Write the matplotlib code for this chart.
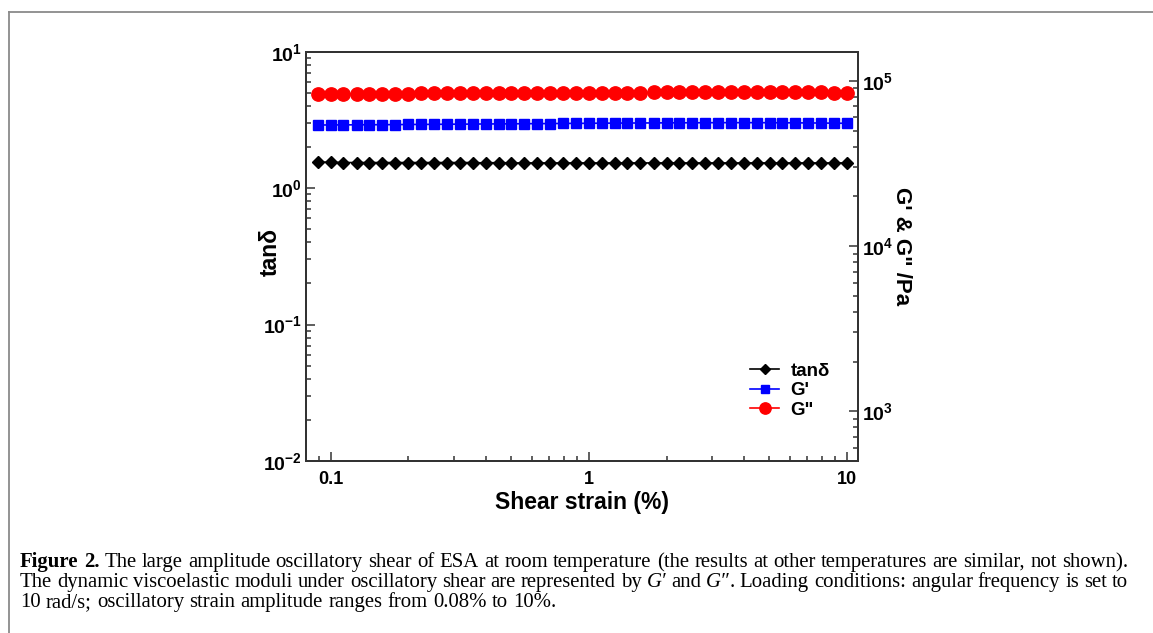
import matplotlib
matplotlib.use("Agg")
import matplotlib.pyplot as plt
from matplotlib.lines import Line2D

plt.rcParams["font.family"] = ["Liberation Sans", "DejaVu Sans"]
plt.rcParams["font.weight"] = "bold"
plt.rcParams["mathtext.fontset"] = "custom"
plt.rcParams["mathtext.rm"] = "Liberation Sans:bold"
plt.rcParams["mathtext.bf"] = "Liberation Sans:bold"
plt.rcParams["mathtext.it"] = "Liberation Sans:bold:italic"
plt.rcParams["axes.unicode_minus"] = False

# ---- data: strain sweep at 10 rad/s ----
strain = [0.0891, 0.1, 0.112, 0.126, 0.141, 0.158, 0.178, 0.2, 0.224, 0.251,
          0.282, 0.316, 0.355, 0.398, 0.447, 0.501, 0.562, 0.631, 0.708, 0.794,
          0.891, 1.0, 1.12, 1.26, 1.41, 1.58, 1.78, 2.0, 2.24, 2.51,
          2.82, 3.16, 3.55, 3.98, 4.47, 5.01, 5.62, 6.31, 7.08, 7.94,
          8.91, 10.0]
tan_delta = [1.55, 1.55, 1.54, 1.54, 1.54, 1.54, 1.54, 1.54, 1.54, 1.54,
             1.54, 1.54, 1.54, 1.53, 1.54, 1.53, 1.53, 1.53, 1.53, 1.53,
             1.53, 1.53, 1.53, 1.53, 1.53, 1.53, 1.53, 1.53, 1.53, 1.53,
             1.53, 1.53, 1.53, 1.53, 1.53, 1.53, 1.53, 1.53, 1.53, 1.53,
             1.53, 1.53]
g_storage = [54000, 54050, 54100, 54150, 54200, 54250, 54300, 54400, 54450, 54500,
             54600, 54650, 54700, 54800, 54850, 54900, 55000, 55050, 55100, 55200,
             55250, 55300, 55400, 55450, 55500, 55550, 55600, 55650, 55700, 55700,
             55750, 55800, 55800, 55800, 55800, 55750, 55700, 55650, 55600, 55500,
             55400, 55300]
g_loss = [83300, 83350, 83400, 83450, 83500, 83600, 83650, 83700, 83800, 83850,
          83900, 84000, 84050, 84100, 84200, 84250, 84300, 84400, 84450, 84500,
          84600, 84650, 84700, 84800, 84850, 84900, 85000, 85050, 85100, 85150,
          85200, 85250, 85300, 85300, 85300, 85250, 85200, 85150, 85100, 85000,
          84900, 84800]

series_labels = ["tan\u03b4", "G'", 'G"']
x_ticks = [0.1, 1, 10]
x_tick_labels = ["0.1", "1", "10"]
left_ticks = [0.01, 0.1, 1, 10]
left_tick_labels = [r"$10^{-2}$", r"$10^{-1}$", r"$10^{0}$", r"$10^{1}$"]
right_ticks = [1e3, 1e4, 1e5]
right_tick_labels = [r"$10^{3}$", r"$10^{4}$", r"$10^{5}$"]

W, H = 1153, 633
fig = plt.figure(figsize=(W / 100, H / 100), dpi=100)
fig.patch.set_facecolor("white")

# page frame (left and top edges)
frame_c = "#8a8a8a"
fig.add_artist(Line2D([9 / W, 9 / W], [0, 1 - 12 / H], transform=fig.transFigure,
                      color=frame_c, lw=1.3))
fig.add_artist(Line2D([9 / W, 1], [1 - 12 / H, 1 - 12 / H], transform=fig.transFigure,
                      color=frame_c, lw=1.3))

ax = fig.add_axes([305.7 / W, 1 - 461 / H, 552 / W, 409.3 / H])
ax2 = ax.twinx()

for a in (ax, ax2):
    a.set_xscale("log")
    a.set_yscale("log")
ax.set_xlim(0.08, 11)
ax.set_ylim(0.01, 10)
ax2.set_ylim(500, 1.5e5)

h1, = ax.plot(strain, tan_delta, "-D", color="black", ms=6.4, lw=1.2,
              label=series_labels[0], zorder=3)
h2, = ax2.plot(strain, g_storage, "-s", color="#0000ff", ms=7.4, lw=1.2,
               label=series_labels[1], zorder=3)
h3, = ax2.plot(strain, g_loss, "-o", color="#ff0000", ms=9.6, lw=1.2,
               label=series_labels[2], zorder=3)

spine_c = "#333333"
for a in (ax, ax2):
    for s in a.spines.values():
        s.set_color(spine_c)
        s.set_linewidth(1.4)

ax.set_xticks(x_ticks, x_tick_labels)
ax.set_yticks(left_ticks, left_tick_labels)
ax2.set_yticks(right_ticks, right_tick_labels)

ax.tick_params(axis="both", which="both", direction="in", top=False, right=False,
               colors=spine_c, labelcolor="black", width=1.1)
ax.tick_params(axis="both", which="major", length=6.5)
ax.tick_params(axis="both", which="minor", length=3.8)
ax.tick_params(axis="x", which="major", pad=7, labelsize=13)
ax.tick_params(axis="y", which="major", pad=2.5, labelsize=14)
ax2.tick_params(axis="y", which="both", direction="in", colors=spine_c,
                labelcolor="black", width=1.1)
ax2.tick_params(axis="y", which="major", length=6.5, labelsize=14, pad=3)
ax2.tick_params(axis="y", which="minor", length=3.8)

ax.set_xlabel("Shear strain (%)", fontsize=16.5, fontweight="bold", va="center")
ax.xaxis.set_label_coords(0.5, -0.102)
ax.set_ylabel(series_labels[0], fontsize=16.5, fontweight="bold", va="center")
ax.yaxis.set_label_coords(-0.0647, 0.511)
ax2.set_ylabel("G' & G\" /Pa", fontsize=16, fontweight="bold", rotation=270,
               va="center")
ax2.yaxis.set_label_coords(1.079, 0.525)

ax2.legend([h1, h2, h3], series_labels, loc="upper left",
           bbox_to_anchor=(0.805, 0.240), frameon=False, borderpad=0,
           borderaxespad=0, handlelength=1.55, handletextpad=0.6,
           labelspacing=0.12, markerscale=0.85,
           prop={"weight": "bold", "size": 13.5})

# ---- caption, typeset word by word and justified ----
serif = ["Liberation Serif", "DejaVu Serif"]
cap_x0, cap_x1 = 20, 1128
renderer = fig.canvas.get_renderer()


def styles(size):
    return (dict(family=serif, size=size, weight="normal"),
            dict(family=serif, size=size, weight="bold"),
            dict(family=serif, size=size, weight="normal", style="italic"))


def measure(s, style):
    t = fig.text(0, 0, s, **style)
    w = t.get_window_extent(renderer).width
    t.remove()
    return w


def words(text, style):
    return [[(w, style)] for w in text.split()]


def build_lines(size):
    rm, bf, it = styles(size)
    line1 = ([[("Figure", bf)], [("2.", bf)]] +
             words("The large amplitude oscillatory shear of ESA at room temperature "
                   "(the results at other temperatures are similar, not shown).", rm))
    line2 = (words("The dynamic viscoelastic moduli under oscillatory shear are "
                   "represented by", rm) +
             [[("G\u2032", it)], [("and", rm)], [("G\u2033", it), (".", rm)]] +
             words("Loading conditions: angular frequency is set to", rm))
    line3 = words("10 rad/s; oscillatory strain amplitude ranges from 0.08% to 10%.", rm)
    return rm, [line1, line2, line3]


def natural_width(line, rm):
    gap = measure("a a", rm) - measure("aa", rm)
    return sum(measure(s, st) for word in line for s, st in word) + gap * (len(line) - 1)


# choose the caption size so the first line fills the text block
rm0, lines0 = build_lines(13)
cap_size = 13 * (cap_x1 - cap_x0) / natural_width(lines0[0], rm0)
rm, cap_lines = build_lines(cap_size)


def typeset(line, x0, baseline, x1=None):
    widths = [[measure(s, st) for s, st in word] for word in line]
    total = sum(sum(w) for w in widths)
    gap = measure("a a", rm) - measure("aa", rm)
    if x1 is not None and len(line) > 1:
        gap = (x1 - x0 - total) / (len(line) - 1)
    x = x0
    for word, ws in zip(line, widths):
        for (s, st), w in zip(word, ws):
            fig.text(x / W, 1 - baseline / H, s, va="baseline", ha="left", **st)
            x += w
        x += gap


typeset(cap_lines[0], cap_x0, 567, cap_x1)
typeset(cap_lines[1], cap_x0, 587, cap_x1)
typeset(cap_lines[2], cap_x0, 607)

fig.savefig("out.png", dpi=100, facecolor="white")
